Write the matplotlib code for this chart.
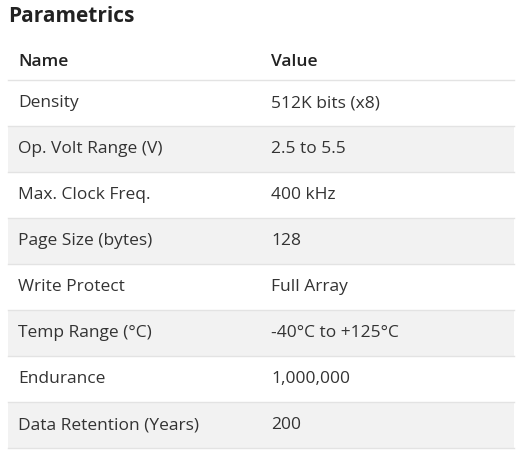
import matplotlib
matplotlib.use("Agg")
import matplotlib.pyplot as plt
from matplotlib.patches import Rectangle

title = "Parametrics"
headers = ["Name", "Value"]
names = ["Density", "Op. Volt Range (V)", "Max. Clock Freq.", "Page Size (bytes)",
         "Write Protect", "Temp Range (°C)", "Endurance", "Data Retention (Years)"]
values = ["512K bits (x8)", "2.5 to 5.5", "400 kHz", "128", "Full Array",
          "-40°C to +125°C", "1,000,000", "200"]

W, H = 523, 461
fig = plt.figure(figsize=(W/100, H/100), dpi=100)
ax = fig.add_axes([0, 0, 1, 1])
ax.set_xlim(0, W); ax.set_ylim(H, 0); ax.axis("off")
plt.rcParams['font.family'] = ['Open Sans', 'DejaVu Sans']

ax.text(8, 17, title, fontsize=15, fontweight="bold", color="#222222", va="center", ha="left")
ax.text(18, 62, headers[0], fontsize=12.5, fontweight="semibold", color="#222222", va="center")
ax.text(271, 62, headers[1], fontsize=12.5, fontweight="semibold", color="#222222", va="center")
top = 80; rh = 46; x0, x1 = 8, 514
ax.plot([x0, x1], [top, top], color="#e3e3e3", lw=1)
for i, (n, v) in enumerate(zip(names, values)):
    y = top + i*rh
    if i % 2 == 1:
        ax.add_patch(Rectangle((x0, y), x1-x0, rh, color="#f2f2f2", lw=0))
    ax.plot([x0, x1], [y+rh, y+rh], color="#e3e3e3", lw=1)
    ax.text(18, y+rh/2, n, fontsize=12.5, color="#333333", va="center")
    ax.text(271, y+rh/2, v, fontsize=12.5, color="#333333", va="center")
fig.savefig("out.png", dpi=100, facecolor="white")
